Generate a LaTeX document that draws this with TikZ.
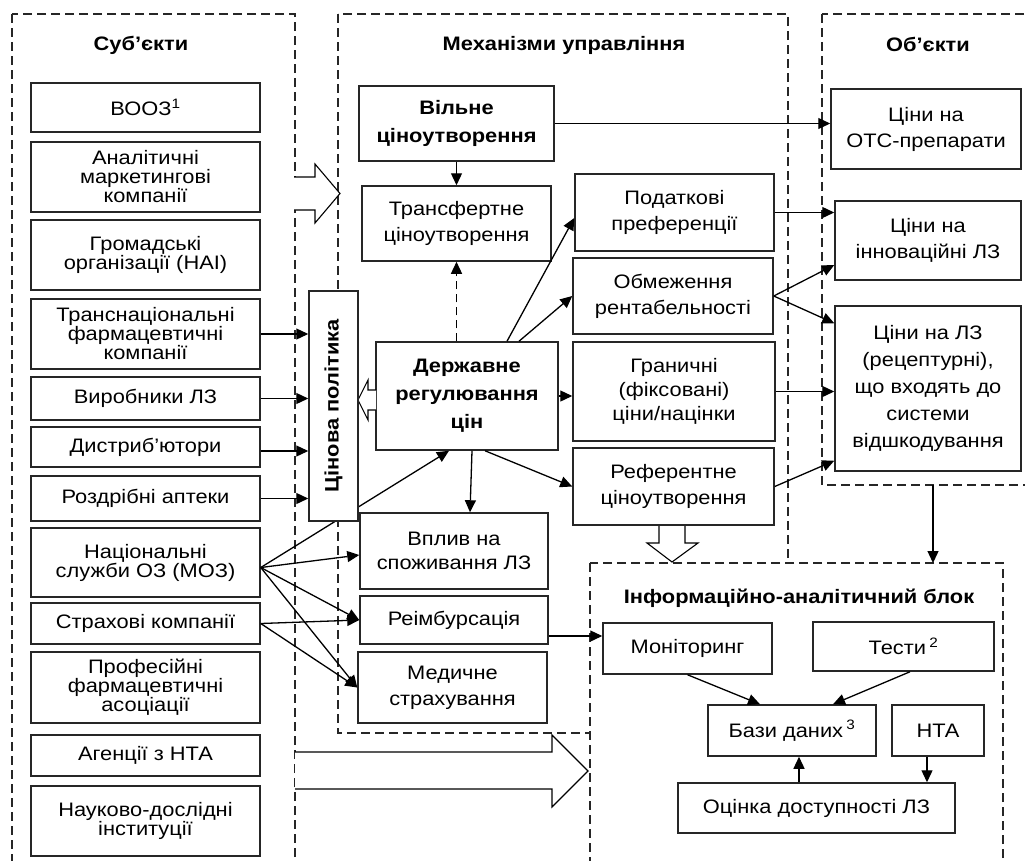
\documentclass[tikz,border=0pt]{standalone}
\usepackage{fontspec}
\usepackage{graphicx}
\setmainfont{Liberation Sans}[FakeStretch=1.12]
\usetikzlibrary{arrows.meta}

\begin{document}
\begin{tikzpicture}[x=1pt, y=-1pt,
    box/.style={draw=black!85, line width=1.5pt, fill=white, align=center, inner sep=2pt,
        font=\fontsize{19.5}{19}\selectfont},
    mbox/.style={box, font=\fontsize{19.5}{26}\selectfont},
    bbox/.style={box, font=\fontsize{19.5}{28}\selectfont\bfseries},
    sz/.style 2 args={minimum width=#1pt, minimum height=#2pt},
    title/.style={font=\fontsize{19.5}{24}\selectfont\bfseries},
    frame/.style={draw=black!85, line width=1.3pt, dash pattern=on 9pt off 5pt},
    hollow/.style={line width=1.1pt, fill=white},
    arr/.style={line width=1.3pt, -{Triangle[length=12pt,width=11pt]}}]

    \useasboundingbox (0,0) rectangle (1025,860);
    \clip (0,0) rectangle (1025,860);

    % dashed blocks
    \draw[frame] (12,14) rectangle (295,875);
    \draw[frame] (338,14) rectangle (788,733);
    \draw[frame] (822,14) rectangle (1040,485);
    \draw[frame, fill=white] (590,563) rectangle (1003,875);

    \node[title] (subjt) at (141,45) {Суб’єкти};
    \node[title] (mecht) at (564,45) {Механізми управління};
    \node[title] (objt) at (928,44) {Об’єкти};
    \node[title] (infot) at (799,598) {Інформаційно-аналітичний блок};

    % hollow arrows
    \draw[hollow] (294,177) -- (315,177) -- (315,164) -- (340,193.5) -- (315,223) -- (315,210) -- (294,210);
    \draw[hollow] (295,752) -- (552,752) -- (552,735) -- (588,771) -- (552,807) -- (552,789) -- (295,789);

    % subjects
    \node[box, sz={229}{49}] (who) at (145.5,107.5) {ВООЗ\textsuperscript{1}};
    \node[box, sz={229}{70}] (amc) at (145.5,177) {Аналітичні\\маркетингові\\компанії};
    \node[box, sz={229}{70}] (ngo) at (145.5,255) {Громадські\\організації (НАІ)};
    \node[box, sz={229}{70}] (tnc) at (145.5,334) {Транснаціональні\\фармацевтичні\\компанії};
    \node[box, sz={229}{43}] (mfr) at (145.5,398.5) {Виробники ЛЗ};
    \node[box, sz={229}{40}] (dst) at (145.5,447) {Дистриб’ютори};
    \node[box, sz={229}{45}] (rtl) at (145.5,498.5) {Роздрібні аптеки};
    \node[box, sz={229}{69}] (nhs) at (145.5,562.5) {Національні\\служби ОЗ (МОЗ)};
    \node[box, sz={229}{41}] (ins) at (145.5,623.5) {Страхові компанії};
    \node[box, sz={229}{71}] (assoc) at (145.5,687.5) {Професійні\\фармацевтичні\\асоціації};
    \node[box, sz={229}{41}] (hta) at (145.5,755.5) {Агенції з НТА};
    \node[box, sz={229}{70}] (res) at (145.5,821) {Науково-дослідні\\інституції};

    % mechanisms
    \node[bbox, sz={195}{75}] (free) at (456.5,123.5) {Вільне\\ціноутворення};
    \node[mbox, sz={189}{75}] (transf) at (456.5,223.5) {Трансфертне\\ціноутворення};
    \node[mbox, sz={199}{77}] (tax) at (674.5,212.5) {Податкові\\преференції};
    \node[mbox, sz={200}{76}] (rent) at (673,296) {Обмеження\\рентабельності};
    \node[mbox, sz={202}{99}, font=\fontsize{19.5}{24}\selectfont] (lim) at (674,391.5) {Граничні\\(фіксовані)\\ціни/націнки};
    \node[mbox, sz={201}{77}] (ref) at (673.5,486.5) {Референтне\\ціноутворення};
    \node[bbox, sz={182}{108}] (state) at (467,396) {Державне\\регулювання\\цін};
    \node[mbox, sz={188}{76}, font=\fontsize{19.5}{24}\selectfont] (cons) at (454,551) {Вплив на\\споживання ЛЗ};
    \node[mbox, sz={188}{48}] (reimb) at (454,620) {Реімбурсація};
    \node[mbox, sz={189}{71}] (medins) at (452.5,687.5) {Медичне\\страхування};

    \draw[hollow] (376,390) -- (368,390) -- (368,380) -- (358,400) -- (368,420) -- (368,410) -- (376,410);
    \draw[hollow] (659,526) -- (659,543) -- (647,543) -- (672,562) -- (698,543) -- (685,543) -- (685,526);

    % objects
    \node[mbox, sz={190}{80}] (otc) at (926,129) {Ціни на\\ОТС-препарати};
    \node[mbox, sz={186}{79}] (innov) at (928,240.5) {Ціни на\\інноваційні ЛЗ};
    \node[mbox, sz={186}{165}, font=\fontsize{19.5}{27}\selectfont] (rx) at (928,388.5)
        {Ціни на ЛЗ\\(рецептурні),\\що входять до\\системи\\відшкодування};

    % information block
    \node[box, sz={169}{51}] (mon) at (687.5,648.5) {Моніторинг};
    \node[box, sz={181}{49}] (tests) at (903.5,646.5) {Тести\,\textsuperscript{2}};
    \node[box, sz={168}{51}] (db) at (792,730.5) {Бази даних\,\textsuperscript{3}};
    \node[box, sz={92}{51}] (htan) at (938,730.5) {НТА};
    \node[box, sz={277}{50}] (avail) at (816.5,808) {Оцінка доступності ЛЗ};

    \coordinate (nhsout) at ([yshift=-5pt]nhs.east);
    \draw[arr] (nhsout) -- ([xshift=-18pt]state.south);

    \node[box, sz={49}{230}] (pp) at (333.5,406) {\rotatebox{90}{\bfseries Цінова політика}};

    % connectors
    \draw[arr] (tnc.east) -- (tnc.east -| pp.west);
    \draw[arr] (mfr.east) -- (mfr.east -| pp.west);
    \draw[arr] ([yshift=-4pt]dst.east) -- ([yshift=-4pt]dst.east -| pp.west);
    \draw[arr] (rtl.east) -- (rtl.east -| pp.west);

    \draw[arr] (nhsout) -- ([yshift=-4pt]cons.west);
    \draw[arr] (nhsout) -- (reimb.west);
    \draw[arr] (nhsout) -- (medins.west);
    \draw[arr] (ins.east) -- (reimb.west);
    \draw[arr] (ins.east) -- (medins.west);

    \draw[arr] (free.east) -- (free.east -| otc.west);
    \draw[arr] (free.south) -- (transf.north);
    \draw[arr, dash pattern=on 8pt off 5pt] (transf.south |- state.north) -- (transf.south);
    \draw[arr] ([xshift=40pt]state.north) -- ([yshift=-5.5pt]tax.west);
    \draw[arr] ([xshift=52pt]state.north) -- (rent.west);
    \draw[arr] (state.east) -- (state.east -| lim.west);
    \draw[arr] ([xshift=18pt]state.south) -- (ref.west);
    \draw[arr] ([xshift=5pt]state.south) -- ([xshift=16pt]cons.north);
    \draw[arr] ([yshift=-16pt]reimb.east) -- ([yshift=-16pt]reimb.east -| mon.west);

    \draw[arr] (tax.east) -- (tax.east -| innov.west);
    \draw[arr] (rent.east) -- ([yshift=-24.5pt]innov.west);
    \draw[arr] (rent.east) -- ([yshift=-18pt]rx.north west);
    \draw[arr] (lim.east) -- (lim.east -| rx.west);
    \draw[arr] (ref.east) -- ([yshift=11pt]rx.south west);

    \coordinate (objbot) at (933,485);
    \coordinate (infotop) at (933,563);
    \draw[arr] (objbot) -- (infotop);

    \draw[arr] (mon.south) -- ([xshift=-32pt]db.north);
    \draw[arr] ([xshift=6.5pt]tests.south) -- ([xshift=41pt]db.north);
    \draw[arr] ([xshift=7pt]db.south |- avail.north) -- ([xshift=7pt]db.south);
    \draw[arr] ([xshift=-11pt]htan.south) -- ([xshift=-11pt]htan.south |- avail.north);
\end{tikzpicture}
\end{document}
